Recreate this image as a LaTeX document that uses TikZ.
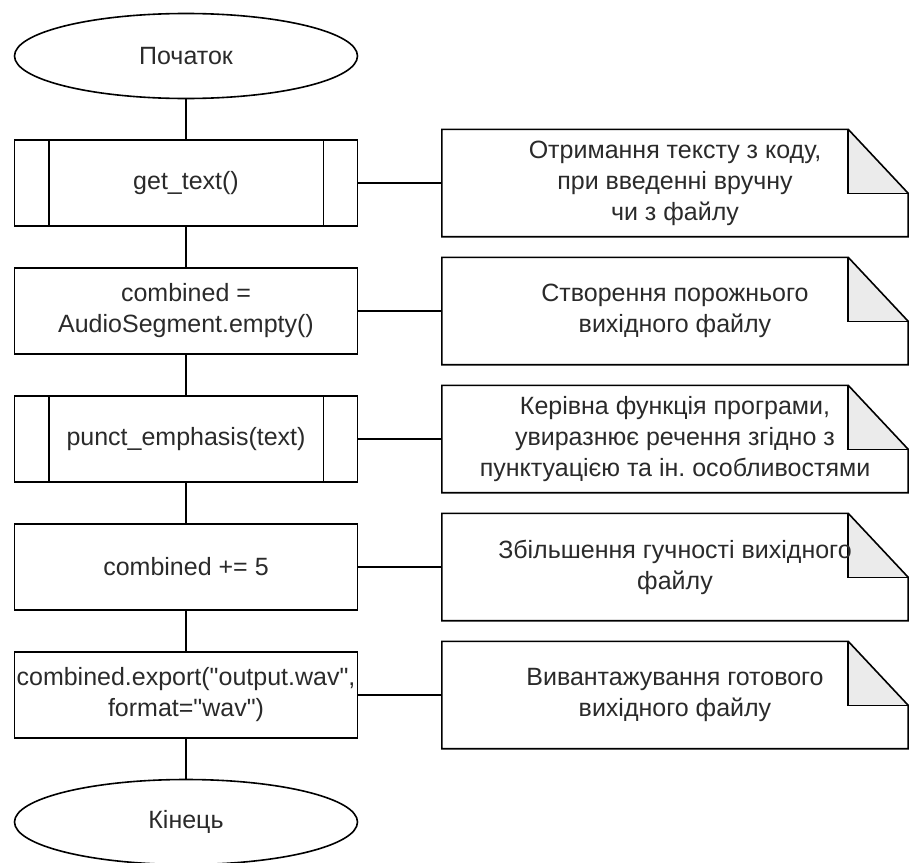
\documentclass[tikz,border=0pt]{standalone}
\usepackage{fontspec}
\setmainfont{Liberation Sans}[Ligatures=TeXOff]
\usetikzlibrary{shapes.geometric,calc,backgrounds}
\frenchspacing
\definecolor{txt}{HTML}{2A2A2A}
\definecolor{foldfill}{HTML}{EBEBEB}
\tikzset{
  lbl/.style={font=\fontsize{25}{31}\selectfont, text=txt},
  term/.style={lbl, ellipse, draw, line width=1.6pt, minimum width=343pt, minimum height=85pt, inner sep=0pt},
  proc/.style={lbl, rectangle, draw, line width=1.6pt, minimum width=343pt, minimum height=86pt, inner sep=0pt, align=center},
  notebody/.style={lbl, rectangle, minimum width=466pt, minimum height=107pt, inner sep=0pt, align=center},
  link/.style={line width=1.6pt},
  outline/.style={line width=1.6pt, line join=miter},
}
\begin{document}
\begin{tikzpicture}[x=1pt,y=-1pt]
\useasboundingbox (0,0) rectangle (909,862);

% flow nodes
\node[term] (start) at (186,56) {Початок};
\node[proc] (b1) at (186,183) {get\_text()};
\node[proc] (b2) at (186,311) {combined =\\AudioSegment.empty()};
\node[proc] (b3) at (186,439) {punct\_emphasis(text)};
\node[proc] (b4) at (186,567) {combined += 5};
\node[proc] (b5) at (186,695) {combined.export("output.wav",\\format="wav")};
\node[term] (end) at (186,822) {Кінець};

% predefined-process side bars
\foreach \b in {b1,b3}{
  \draw[link] ($(\b.north west)+(35,0)$) -- ($(\b.south west)+(35,0)$);
  \draw[link] ($(\b.north east)+(-35,0)$) -- ($(\b.south east)+(-35,0)$);
}

% notes
\node[notebody] (n1) at (675,183) {Отримання тексту з коду,\\при введенні вручну\\чи з файлу};
\node[notebody] (n2) at (675,311) {Створення порожнього\\вихідного файлу};
\node[notebody] (n3) at (675,439) {Керівна функція програми,\\увиразнює речення згідно з\\пунктуацією та ін. особливостями};
\node[notebody] (n4) at (675,567) {Збільшення гучності вихідного\\файлу};
\node[notebody] (n5) at (675,695) {Вивантажування готового\\вихідного файлу};

\begin{pgfonlayer}{background}
\foreach \n in {n1,n2,n3,n4,n5}{
  \fill[foldfill] ($(\n.north east)+(-60,0)$) -- ($(\n.north east)+(0,64)$) -- ($(\n.north east)+(-60,64)$) -- cycle;
  \draw[outline] ($(\n.north east)+(-60,0)$) -- ($(\n.north east)+(-60,64)$) -- ($(\n.north east)+(0,64)$);
  \draw[outline] (\n.north west) -- ($(\n.north east)+(-60,0)$) -- ($(\n.north east)+(0,64)$) -- (\n.south east) -- (\n.south west) -- cycle;
}
\end{pgfonlayer}

% connectors
\draw[link] (start) -- (b1);
\draw[link] (b1) -- (b2);
\draw[link] (b2) -- (b3);
\draw[link] (b3) -- (b4);
\draw[link] (b4) -- (b5);
\draw[link] (b5) -- (end);
\draw[link] (b1) -- (n1);
\draw[link] (b2) -- (n2);
\draw[link] (b3) -- (n3);
\draw[link] (b4) -- (n4);
\draw[link] (b5) -- (n5);
\end{tikzpicture}
\end{document}
